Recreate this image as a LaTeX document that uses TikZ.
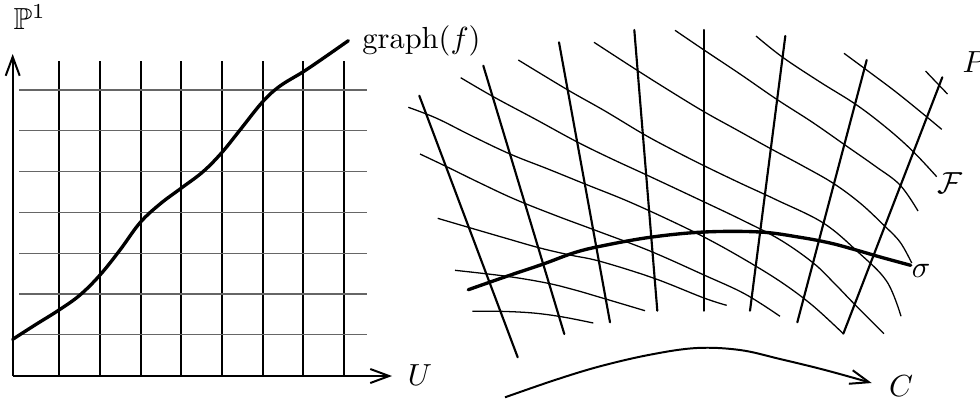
\documentclass[tikz,border=0pt]{standalone}
\usepackage{amssymb}
\usetikzlibrary{arrows.meta}
\tikzset{
  px/.style={x=0.328pt,y=-0.328pt},
  axis/.style={
    line width=0.65pt,
    -{Straight Barb[length=6.2pt,width=4.6pt]}
  },
  grid-v/.style={line width=0.65pt},
  grid-h/.style={line width=0.4pt, black!60},
  fiber/.style={line width=0.7pt, line cap=round},
  leaf/.style={line width=0.42pt},
  heavy/.style={line width=1.1pt, line join=round, line cap=round},
  lbl/.style={inner sep=0pt}
}

\begin{document}
\begin{tikzpicture}[px]
  \useasboundingbox (0,0) rectangle (980,398);
  \coordinate (origin) at (12.7,376);
  \coordinate (ytip) at (12.7,54);
  \coordinate (xtip) at (392,376);
  \foreach \x in {59.3,100,140.7,181.3,222,262.7,303.3,344}
    \draw[grid-v] (\x,61) -- (\x,376);
  \foreach \y in {90,130.8,171.6,212.4,253.2,294,334.8}
    \draw[grid-h] (19,\y) -- (366.7,\y);
  \draw[axis] (origin) -- (ytip);
  \draw[axis] (origin) -- (xtip);
  \draw[heavy] plot[smooth, tension=0.6] coordinates {(12.7,339.3) (35,325)
    (59,310) (80,295) (100,275) (120,250) (140,222.7) (160,204) (181,188.3)
    (203,171.7) (221.7,152.7) (240,130) (262.7,101.7) (280,86) (303.3,71.7)
    (325,57) (348.3,40.7)};
  \node[lbl, anchor=base west] (pone) at (13,29.3) {$\mathbb{P}^1$};
  \node[lbl, anchor=base west] (graphf) at (361.7,48) {graph$(f)$};
  \node[lbl] (ulbl) at (420,375.5) {$U$};

  \foreach \xa/\ya/\xb/\yb in {419.3/95.7/517.7/357.3, 483.3/65.7/564.3/334,
      559/42.3/610/322.3, 634.3/30/657.3/310.7, 704/30/704/310.7,
      785.3/36/750/310.7, 866.7/60/797.3/322.3, 942.3/77.3/843.3/333.7}
    \draw[fiber] (\xa,\ya) -- (\xb,\yb);

  \draw[leaf] plot[smooth, tension=0.6] coordinates {(925.5,71) (936,82) (947.5,94)};
  \draw[leaf] plot[smooth, tension=0.6] coordinates {(844,53.3) (870,72.5)
    (896,92) (922,113) (941.7,129.3)};
  \draw[leaf] plot[smooth, tension=0.6] coordinates {(756,36) (782.7,57.3)
    (820,82) (856.7,105) (888,129) (913.3,151.7) (936.7,176.7)};
  \draw[leaf] plot[smooth, tension=0.6] coordinates {(675,30.3) (704,50)
    (740,74) (776.7,99.3) (812,122) (845,145) (875,166) (900,185) (918,211)};
  \draw[leaf] plot[smooth, tension=0.6] coordinates {(594,42.3) (636.7,70)
    (670,91) (704,111.7) (737,130) (770,148.3) (803,166) (833.3,183.3)
    (860,203) (883.3,224.7) (900,242) (911.7,263)};
  \draw[leaf] plot[smooth, tension=0.6] coordinates {(518.3,60) (566.7,89.3)
    (605,111) (643.3,134) (673,150) (704,165.7) (740,183) (776.7,200)
    (823.3,223) (858,252) (886.7,281.3) (901,316.3)};
  \draw[leaf] plot[smooth, tension=0.6] coordinates {(460.7,77.7) (493.3,96.7)
    (535,119) (576.7,141.7) (612,159) (646.7,175) (700,200) (742,220)
    (780,239.7) (813.3,263) (835,284) (855,304.7) (884,333.7)};
  \draw[leaf] plot[smooth, tension=0.6] coordinates {(408.3,107.3) (436.7,118.3)
    (472,136) (510,154) (548,169) (585,184) (625,200) (665,218) (704,237)
    (742,258) (780,281.3) (812,305) (843.3,333.7)};
  \draw[leaf] plot[smooth, tension=0.6] coordinates {(420,154) (446.7,166.7)
    (480,183) (515,199.3) (557,216) (600,232) (650,251) (704,275) (745,294)
    (780,316.3)};
  \draw[leaf] plot[smooth, tension=0.6] coordinates {(437.7,218.3) (468.3,227.3)
    (505,238) (540,248) (570,255) (600,261.3) (653.3,278) (704,298) (726.7,305.3)};
  \draw[leaf] plot[smooth, tension=0.6] coordinates {(455,270.3) (506.7,276.3)
    (546.7,283) (575,290) (600,297.3) (645,310.7)};
  \draw[leaf] plot[smooth, tension=0.6] coordinates {(472.3,311.3) (500,311.3)
    (533.3,313) (563,317) (593.3,323)};

  \draw[heavy] plot[smooth, tension=0.6] coordinates {(468.3,289.7) (506.7,276.3)
    (543.3,264) (573.3,253) (600,246.3) (650,237.3) (704,232) (760,232)
    (800,237.3) (830,243) (855,249.7) (882,257.5) (910.7,265.3)};

  \coordinate (cstart) at (505,397.3);
  \coordinate (ctip) at (871.7,383);
  \draw[axis] plot[smooth, tension=0.6] coordinates {(cstart) (555,380)
    (600,366.3) (650,354.7) (696.7,348) (740,350) (780,359) (825,370) (ctip)};

  \node[lbl, anchor=base west] (plbl) at (962,72) {$P$};
  \node[lbl] (flbl) at (950,183.3) {$\mathcal{F}$};
  \node[lbl] (sigmalbl) at (921,270.5) {$\sigma$};
  \node[lbl] (clbl) at (901,386) {$C$};
\end{tikzpicture}
\end{document}
